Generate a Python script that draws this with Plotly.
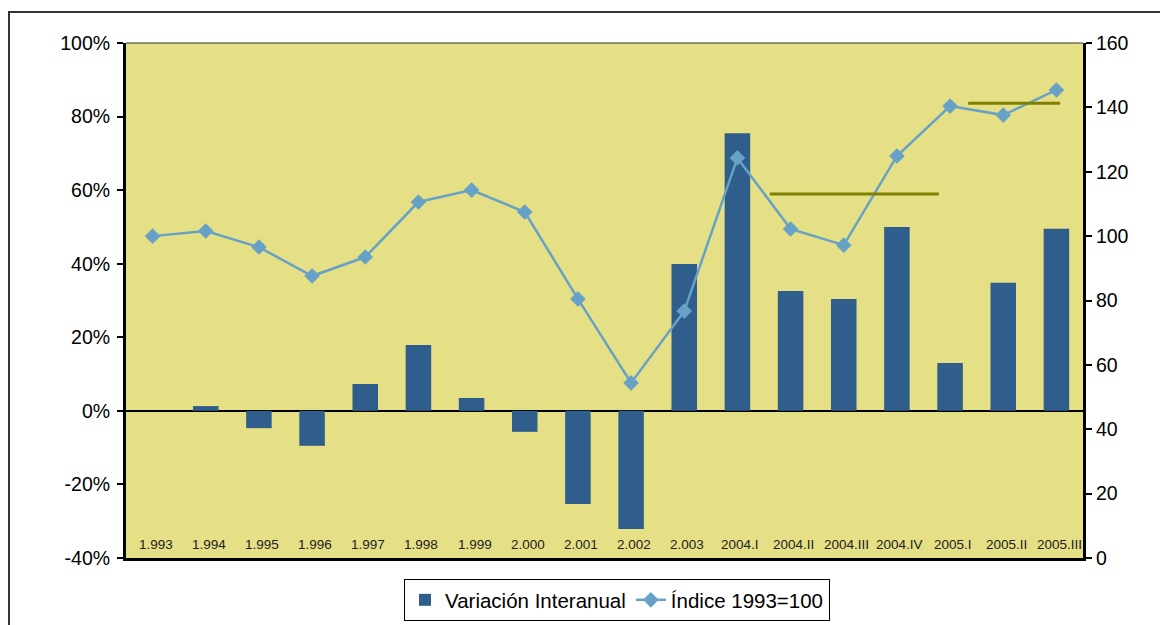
import plotly.graph_objects as go

categories = ["1.993", "1.994", "1.995", "1.996", "1.997", "1.998", "1.999", "2.000",
              "2.001", "2.002", "2.003", "2004.I", "2004.II", "2004.III", "2004.IV",
              "2005.I", "2005.II", "2005.III"]
variacion = [0.0, 1.3, -4.7, -9.5, 7.3, 17.9, 3.5, -5.7, -25.3, -32.1, 39.9, 75.5,
             32.6, 30.4, 50.0, 13.0, 34.8, 49.5]
indice = [100.0, 101.6, 96.6, 87.6, 93.5, 110.6, 114.3, 107.5, 80.5, 54.4, 76.7,
          124.3, 102.2, 97.2, 124.9, 140.4, 137.6, 145.4]
# average reference lines (start index, end index, level)
avg_start = [11.61, 15.34]
avg_end = [14.79, 17.07]
avg_level = [113.1, 141.3]

left_ticks = [-0.4, -0.2, 0.0, 0.2, 0.4, 0.6, 0.8, 1.0]
left_labels = ["-40%", "-20%", "0%", "20%", "40%", "60%", "80%", "100%"]
right_ticks = [0, 20, 40, 60, 80, 100, 120, 140, 160]
right_labels = [str(v) for v in right_ticks]

xs = list(range(len(categories)))

fig = go.Figure()
fig.add_trace(go.Bar(
    x=xs, y=[v / 100 for v in variacion], name="Variación Interanual",
    marker=dict(color="#2F5D8C", line=dict(width=0)), yaxis="y"))
fig.add_trace(go.Scatter(
    x=xs, y=indice, name="Índice 1993=100", mode="lines+markers",
    line=dict(color="#67A2C6", width=2.5),
    marker=dict(symbol="diamond", size=12, color="#67A2C6"), yaxis="y2"))
for s, e, lv in zip(avg_start, avg_end, avg_level):
    fig.add_trace(go.Scatter(
        x=[s, e], y=[lv, lv], mode="lines", line=dict(color="#808000", width=3),
        yaxis="y2", showlegend=False, hoverinfo="skip"))

# category labels drawn inside the plot, just above the bottom axis
for x, lab in zip(xs, categories):
    fig.add_annotation(x=x, y=0.026, xref="x", yref="paper", text=lab,
                       showarrow=False, xanchor="center", yanchor="middle",
                       xshift=3, font=dict(size=13.5, color="#222"))

font = "Liberation Sans, Arial, sans-serif"
W, H = 1160, 617
fig.update_layout(
    width=W, height=H,
    margin=dict(l=118, r=85, t=35, b=67),
    paper_bgcolor="white", plot_bgcolor="#E5DF86",
    bargap=0.52,
    font=dict(family=font, color="black"),
    xaxis=dict(
        range=[-0.5, 17.5], showticklabels=False, ticks="", showgrid=False,
        zeroline=False, showline=True, linecolor="black", linewidth=3,
        automargin=False),
    yaxis=dict(
        range=[-0.4, 1.0], tickmode="array", tickvals=left_ticks, ticktext=left_labels,
        showgrid=False, automargin=False,
        zeroline=True, zerolinecolor="black", zerolinewidth=2,
        showline=True, linecolor="black", linewidth=3,
        ticks="outside", ticklen=6, tickwidth=2, tickcolor="black",
        ticklabelstandoff=3, tickfont=dict(size=19.5)),
    yaxis2=dict(
        range=[0, 160], tickmode="array", tickvals=right_ticks, ticktext=right_labels,
        overlaying="y", side="right", showgrid=False, automargin=False,
        zeroline=False, showline=True, linecolor="black", linewidth=3,
        ticks="outside", ticklen=6, tickwidth=2, tickcolor="black",
        tickfont=dict(size=19.5)),
    legend=dict(
        orientation="h", xref="container", yref="container",
        x=(617 - 8) / W, xanchor="center", y=1 - (579 - 8) / H, yanchor="top",
        bordercolor="black", borderwidth=1, font=dict(size=20.5),
        traceorder="normal", entrywidth=0),
    shapes=[
        dict(type="line", xref="paper", yref="paper", x0=0, x1=1, y0=1, y1=1,
             line=dict(color="#333", width=1)),
        dict(type="rect", xref="paper", yref="paper", x0=-0.1223, x1=1.2,
             y0=-0.3, y1=1.0602, line=dict(color="#333", width=2),
             fillcolor="rgba(0,0,0,0)", layer="below"),
    ],
)

fig.write_html("out.html")
